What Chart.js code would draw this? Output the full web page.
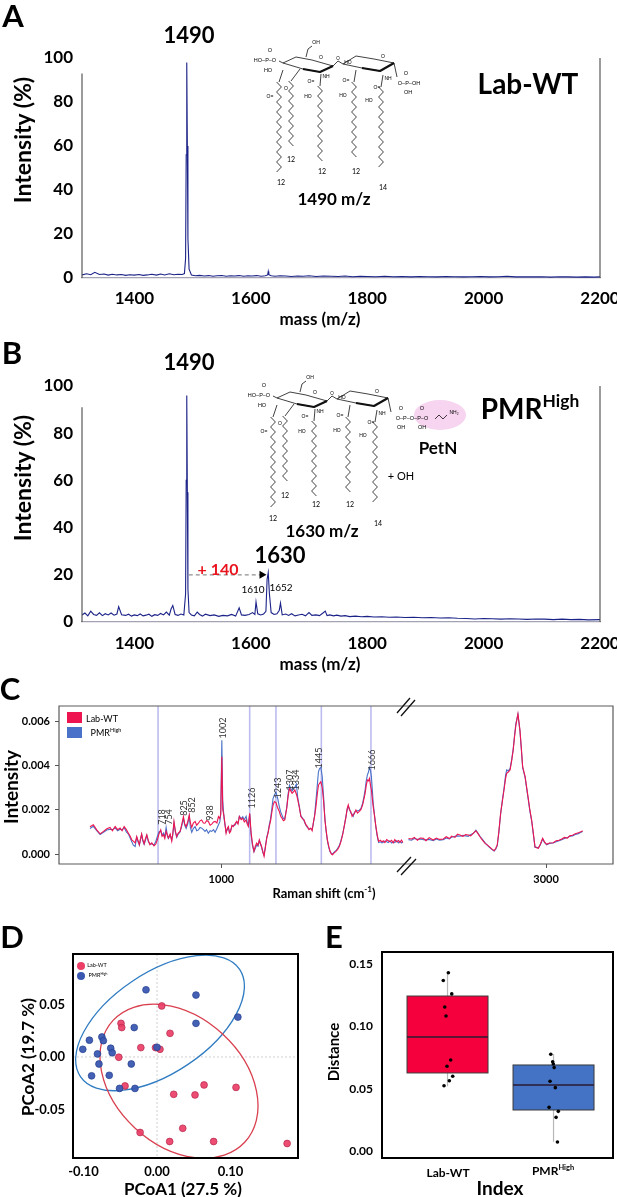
<!DOCTYPE html>
<html><head><meta charset="utf-8">
<script src="https://cdn.jsdelivr.net/npm/chart.js@4.4.0/dist/chart.umd.min.js"></script>
<style>
html,body{margin:0;padding:0;background:#fff;}
body{width:617px;height:1197px;position:relative;overflow:hidden;font-family:Lato,"Liberation Sans",sans-serif;}
canvas{position:absolute;}
.t{position:absolute;white-space:nowrap;transform:translate(-50%,-50%);line-height:1;color:#000;}
sup{font-size:0.62em;vertical-align:0.7em;line-height:0;}
</style></head><body>
<script>
// ---------------- DATA ----------------
// Panel A (Lab-WT MALDI spectrum)
const massTicks = [1400,1600,1800,2000,2200];
const intensityTicks = [0,20,40,60,80,100];
const mzA = [1310,1318,1325,1332,1340,1348,1355,1362,1370,1378,
 1385,1392,1400,1408,1415,1422,1430,1438,1445,1452,
 1460,1468,1475,1482,1486,1488,1489,1490,1491,1492,
 1494,1498,1505,1512,1520,1528,1535,1542,1550,1558,
 1565,1572,1580,1588,1595,1602,1610,1618,1625,1629,
 1630,1631,1635,1642,1650,1660,1670,1680,1690,1700,
 1712,1725,1738,1750,1762,1775,1788,1800,1815,1830,
 1845,1860,1875,1890,1905,1920,1935,1950,1965,1980,
 1995,2010,2025,2040,2055,2070,2085,2100,2115,2130,
 2145,2160,2175,2190,2200];
const intA = [1.4,1.9,1.5,2.6,1.6,1.8,1.3,1.7,1.4,1.6,
 1.2,1.5,1.3,1.6,1.2,1.4,1.7,1.3,1.8,1.4,
 1.9,1.5,1.7,1.6,2.0,9,56,98,60,18,
 4,1.4,1.0,1.2,0.9,1.1,0.8,1.0,1.1,0.8,
 1.0,0.9,1.1,0.8,1.0,0.9,1.1,0.8,1.0,1.4,
 3.0,1.5,1.0,0.8,1.0,0.9,0.7,0.9,0.8,1.0,
 0.7,0.9,0.8,0.7,0.9,0.6,0.8,0.7,0.6,0.8,
 0.6,0.7,0.5,0.7,0.6,0.5,0.7,0.6,0.5,0.6,
 0.7,0.5,0.6,0.8,0.5,0.6,0.5,0.6,0.4,0.6,
 0.5,0.4,0.5,0.4,0.5];
// Panel B (PMR-High spectrum)
const mzB = [1310,1315,1320,1325,1330,1335,1340,1345,1350,1355,
 1360,1365,1370,1373,1378,1385,1390,1395,1400,1405,
 1410,1415,1420,1425,1430,1435,1440,1445,1450,1455,
 1460,1463,1466,1470,1475,1480,1485,1488,1489,1490,
 1491,1492,1494,1498,1503,1508,1512,1517,1522,1530,
 1537,1545,1552,1560,1567,1574,1580,1584,1590,1597,
 1603,1607,1609,1612,1617,1622,1626,1628,1630,1632,
 1635,1640,1645,1649,1651,1654,1660,1665,1670,1676,
 1682,1688,1694,1700,1705,1712,1718,1724,1728,1731,
 1736,1742,1748,1755,1762,1770,1780,1790,1800,1812,
 1825,1838,1850,1865,1880,1895,1910,1925,1940,1955,
 1970,1985,2000,2015,2030,2045,2060,2075,2090,2105,
 2120,2135,2150,2165,2180,2200];
const intB = [3.0,3.8,2.6,4.6,3.2,2.8,3.9,2.7,3.5,3.0,
 3.8,2.9,3.4,6.5,3.1,2.8,3.3,2.5,3.0,2.7,
 3.4,2.6,2.9,3.3,2.4,3.1,2.8,3.6,3.0,4.2,
 2.9,5.5,7.0,3.2,2.8,3.4,3.0,12,60,96,
 55,14,4.0,3.0,2.6,4.2,3.2,2.5,3.3,2.7,
 3.0,2.4,2.8,2.6,3.2,2.5,6.0,3.0,2.8,3.2,
 4.0,3.2,8.5,3.5,3.0,3.4,4.5,18,21,12,
 4.0,3.2,3.5,5.0,8.0,3.0,3.4,2.8,3.5,2.6,
 3.0,3.3,2.6,4.0,2.8,3.0,2.7,3.8,4.6,2.7,
 3.0,2.6,2.9,2.5,2.7,2.3,2.5,2.2,2.4,2.1,
 2.2,2.0,2.1,1.9,2.0,1.8,1.9,1.7,1.8,1.6,
 1.5,1.3,1.5,1.4,1.2,1.4,1.3,1.1,1.3,1.2,
 1.0,1.2,1.0,1.1,0.9,1.0];
const shiftFrom = 1490, shiftTo = 1627, shiftLevel = 20;

// Panel C (Raman, intensity x 10^-3)
const ramanYTicks = [0,0.002,0.004,0.006];
const ramanLeftTicks = [1000];
const ramanRightTicks = [3000];
const ramanMarks = [718,1126,1243,1445,1666];
const wnL = [415,430,445,460,475,490,504,515,527,538,
 549,558,567,577,586,594,601,608,616,623,
 629,635,640,645,650,656,662,668,675,682,
 690,700,708,715,722,730,736,742,748,754,
 760,764,772,779,784,789,795,801,808,816,
 823,831,837,843,850,857,862,868,875,883,
 890,898,905,912,920,927,934,942,950,957,
 965,972,980,987,993,997,1002,1006,1012,1021,
 1026,1031,1036,1041,1047,1053,1060,1068,1074,1080,
 1088,1095,1102,1110,1115,1120,1126,1132,1138,1145,
 1151,1157,1163,1169,1175,1179,1185,1190,1196,1202,
 1208,1213,1219,1224,1230,1236,1243,1250,1258,1264,
 1270,1276,1282,1291,1297,1303,1309,1315,1321,1327,
 1334,1340,1347,1354,1361,1368,1375,1383,1390,1398,
 1404,1409,1415,1421,1427,1432,1437,1443,1449,1455,
 1461,1466,1472,1478,1484,1490,1495,1502,1510,1517,
 1525,1532,1540,1548,1555,1560,1565,1570,1576,1582,
 1587,1593,1599,1606,1614,1621,1629,1635,1640,1645,
 1650,1655,1659,1664,1668,1672,1676,1682,1688,1694,
 1700,1708,1715,1721,1728,1736,1743,1750,1758,1765,
 1772,1780,1788,1795,1802,1808];
const labWTL = [1.23,1.32,1.09,0.91,1.02,1.14,1.20,1.05,1.24,1.10,
 1.17,1.05,1.24,1.10,0.94,0.80,0.64,0.58,0.50,0.79,
 0.60,0.42,0.70,0.91,0.65,0.46,0.70,0.87,0.60,0.42,
 0.50,0.37,0.45,0.64,0.90,1.09,0.80,0.87,0.70,1.02,
 0.85,0.72,0.90,0.58,0.95,1.47,1.05,0.79,0.95,1.02,
 1.30,1.69,1.35,1.24,1.45,1.77,1.40,1.20,1.40,1.47,
 1.30,1.39,1.50,1.54,1.40,1.39,1.50,1.47,1.30,1.35,
 1.45,1.47,1.40,1.69,1.60,1.80,4.39,2.00,1.69,0.94,
 1.15,1.24,0.95,1.02,1.30,1.24,1.35,1.47,1.35,1.69,
 1.55,1.62,1.45,1.54,1.35,1.24,1.84,1.00,0.49,0.12,
 0.35,0.49,0.40,0.64,0.45,0.34,0.10,-0.10,0.30,0.72,
 0.95,1.24,1.50,1.84,2.20,2.37,2.32,2.10,1.92,1.70,
 1.62,1.50,1.54,2.07,2.60,2.96,2.85,2.74,2.80,2.89,
 2.70,2.45,2.10,1.69,1.60,1.54,1.35,1.24,1.10,1.17,
 1.05,1.39,1.70,2.14,2.70,3.10,3.19,3.26,3.00,2.40,
 1.54,1.10,0.64,0.35,0.12,0.00,-0.03,0.05,0.12,0.20,
 0.34,0.55,0.87,1.30,1.69,2.05,2.22,2.00,1.92,1.70,
 1.77,1.85,1.99,1.85,1.92,2.00,2.22,2.50,2.74,3.10,
 3.34,3.30,3.41,3.10,2.89,2.50,2.14,1.70,1.24,0.85,
 0.57,0.62,0.55,0.60,0.52,0.65,0.60,0.55,0.62,0.50,
 0.65,0.55,0.61,0.52,0.63,0.52];
const pmrL = [1.15,1.25,1.05,0.88,0.98,1.08,1.12,1.10,1.18,1.05,
 1.12,1.08,1.20,1.00,0.90,0.72,0.55,0.40,0.34,0.75,
 0.55,0.40,0.66,0.88,0.60,0.44,0.62,0.84,0.55,0.45,
 0.46,0.40,0.58,0.79,1.00,1.05,0.85,0.95,0.78,1.20,
 0.80,0.70,0.85,0.64,0.90,1.40,1.00,0.75,0.90,1.00,
 1.25,1.60,1.30,1.15,1.35,1.70,1.20,0.98,1.15,1.24,
 1.05,1.09,1.20,1.17,1.10,1.02,1.10,0.94,1.05,1.02,
 1.10,0.98,1.15,1.32,1.45,1.80,5.13,2.40,1.60,0.98,
 1.10,1.20,0.98,1.05,1.25,1.30,1.30,1.45,1.40,1.70,
 1.60,1.68,1.55,1.70,1.45,1.30,1.80,0.90,0.40,0.10,
 0.25,0.40,0.35,0.60,0.42,0.30,0.05,-0.05,0.35,0.75,
 1.00,1.30,1.60,2.00,2.50,2.66,2.78,2.55,2.14,1.90,
 1.75,1.60,1.58,2.10,2.70,3.11,2.95,2.85,2.95,3.00,
 3.16,2.55,2.15,1.72,1.62,1.50,1.32,1.20,1.12,1.15,
 1.10,1.35,1.75,2.40,3.10,3.70,3.86,3.91,3.50,2.60,
 1.60,1.05,0.60,0.30,0.10,0.02,0.00,0.08,0.15,0.25,
 0.38,0.60,0.90,1.32,1.72,2.00,2.15,2.05,1.85,1.80,
 1.70,1.90,1.92,1.95,1.98,2.05,2.30,2.60,2.90,3.30,
 3.56,3.70,3.91,3.75,3.49,2.90,2.30,1.75,1.20,0.80,
 0.52,0.55,0.50,0.53,0.58,0.55,0.52,0.60,0.50,0.55,
 0.52,0.60,0.50,0.58,0.50,0.55];
const wnR = [2388,2402,2414,2428,2440,2454,2466,2480,2498,2512,
 2526,2543,2556,2570,2580,2595,2606,2617,2630,2643,
 2654,2665,2676,2688,2697,2706,2718,2729,2740,2751,
 2760,2769,2776,2783,2790,2798,2806,2813,2820,2825,
 2832,2840,2847,2854,2860,2866,2875,2884,2890,2896,
 2902,2907,2914,2921,2928,2936,2944,2951,2958,2966,
 2975,2985,2993,3003,3015,3032,3045,3058,3070,3082,
 3095,3107,3118,3130,3144,3155,3163];
const labWTR = [0.70,0.68,0.75,0.62,0.72,0.71,0.60,0.74,0.63,0.72,
 0.66,0.68,0.78,0.70,0.81,0.75,0.90,0.86,0.80,0.88,
 0.86,0.82,0.93,1.05,0.92,0.78,0.62,0.48,0.40,0.30,
 0.22,0.15,0.25,0.41,1.00,1.84,2.40,2.89,3.40,3.64,
 3.70,3.79,4.20,4.69,5.30,5.82,6.32,5.59,4.80,3.94,
 3.70,3.49,3.00,2.51,2.00,1.53,0.90,0.33,0.28,0.26,
 0.45,0.71,0.55,0.44,0.50,0.51,0.60,0.62,0.68,0.75,
 0.72,0.83,0.85,0.92,0.96,1.00,1.05];
const pmrR = [0.65,0.62,0.70,0.66,0.68,0.65,0.64,0.66,0.60,0.68,
 0.62,0.65,0.72,0.68,0.76,0.80,0.82,0.80,0.84,0.82,
 0.80,0.88,0.92,1.08,0.95,0.80,0.65,0.50,0.38,0.28,
 0.20,0.14,0.22,0.38,0.95,1.80,2.45,2.95,3.55,3.80,
 3.75,3.85,4.25,4.75,5.35,5.90,6.30,5.55,4.75,3.90,
 3.65,3.45,2.95,2.45,1.95,1.50,0.85,0.30,0.30,0.28,
 0.42,0.68,0.52,0.42,0.48,0.50,0.55,0.60,0.65,0.70,
 0.75,0.80,0.82,0.88,0.92,0.98,1.02];

// Panel D (PCoA)
const pcoaXTicks = [-0.1,0,0.1];
const pcoaYTicks = [-0.05,0,0.05];
const labX = [0.0064,-0.049,-0.048,0.0177,-0.022,-0.002,0.004,-0.052,-0.0435,0.064,0.1075,0.0227,0.0517,0.035,-0.023,0.0172,0.077,0.177];
const labY = [0.0486,0.032,0.028,0.0225,0.0089,0.0089,0.0073,-0.0003,-0.0276,-0.0267,-0.029,-0.0356,-0.0362,-0.068,-0.072,-0.0806,-0.0806,-0.0825];
const pmrX = [-0.015,0.053,0.110,0.053,-0.031,-0.075,-0.073,-0.092,-0.101,-0.063,-0.061,-0.081,0.000,-0.079,-0.035,-0.089,-0.065,-0.051,-0.030];
const pmrY = [0.064,0.059,0.038,0.032,0.028,0.019,0.0155,0.016,0.0073,0.0083,0.004,0.0029,0.0092,-0.0067,-0.0067,-0.018,-0.0175,-0.030,-0.030];
// confidence ellipses: centre, half-axis vector 1, half-axis vector 2 (data units)
const ellipseLab = [0.0299,-0.0231, 0.0897,-0.0579, -0.0593,-0.0450];
const ellipsePmr = [0.0041,0.0324, 0.1083,0.0511, 0.0381,-0.0395];

// Panel E (distance boxplot)
const groups = ['Lab-WT','PMR<sup>High</sup>'];
const distTicks = [0,0.05,0.1,0.15];
const q1 = [0.0626,0.0329];
const med = [0.0914,0.053];
const q3 = [0.1243,0.069];
const whLo = [0.052,0.0075];
const whHi = [0.143,0.0778];
const labDist = [0.143,0.1367,0.126,0.1155,0.1083,0.073,0.068,0.060,0.0564,0.0524];
const labJit = [0.008,-0.040,0.040,-0.026,-0.014,0.030,-0.005,0.049,0.017,-0.033];
const pmrDist = [0.0776,0.0716,0.0698,0.0669,0.056,0.0508,0.035,0.0318,0.027,0.0072];
const pmrJit = [-0.026,-0.008,-0.002,0.006,-0.033,0.017,-0.042,0.045,0.024,0.037];

// ---------------- HELPERS ----------------
const FONT = 'Lato';
const zip = (xs, ys, k) => { const n = Math.min(xs.length, ys.length); const o = []; for (let i = 0; i < n; i++) o.push({x: xs[i], y: ys[i] * (k || 1)}); return o; };
function mk(l, t, w, h) { const c = document.createElement('canvas'); c.width = w; c.height = h; c.style.left = l + 'px'; c.style.top = t + 'px'; c.style.width = w + 'px'; c.style.height = h + 'px'; document.body.appendChild(c); return c; }
function T(x, y, html, css, rot) { const d = document.createElement('div'); d.className = 't'; d.innerHTML = html; d.style.cssText = 'left:' + x + 'px;top:' + y + 'px;' + (css || '') + (rot ? 'transform:translate(-50%,-50%) rotate(-90deg);' : ''); document.body.appendChild(d); return d; }
const fixTicks = arr => s => { s.ticks = arr.map(v => ({value: v})); };
const bold = size => ({family: FONT, weight: 'bold', size});
const base = {responsive: false, animation: false, events: [], plugins: {legend: {display: false}, tooltip: {enabled: false}}};

// ---------------- PANELS A & B ----------------
const NAVY = '#1c2388';
function frameAB(leftTopVal) {
  return {id: 'frameAB', afterDraw(ch) {
    const {ctx, chartArea: a, scales: {y}} = ch;
    ctx.save(); ctx.strokeStyle = '#4a4a4a'; ctx.lineWidth = 1.1; ctx.beginPath();
    ctx.moveTo(a.left, y.getPixelForValue(leftTopVal)); ctx.lineTo(a.left, a.bottom);
    ctx.moveTo(a.right, a.top); ctx.lineTo(a.right, a.bottom); ctx.stroke(); ctx.restore();
  }};
}
function spectrum(canvas, mz, val, cfg) {
  return new Chart(canvas, {type: 'line',
    data: {datasets: [{data: zip(mz, val), borderColor: NAVY, borderWidth: 1.1, pointRadius: 0, tension: 0, fill: false}]},
    options: Object.assign({}, base, {
      layout: {padding: {top: cfg.top, right: 17, left: 0, bottom: 0}},
      scales: {
        x: {type: 'linear', min: 1310, max: 2200, afterBuildTicks: fixTicks(massTicks),
            afterFit: s => { s.height = cfg.xh; s.paddingLeft = 0; s.paddingRight = 0; },
            grid: {display: false, drawTicks: false}, border: {display: true, color: '#a3a3b3', width: 1.3},
            ticks: {padding: cfg.xpad, color: '#000', font: bold(17), maxRotation: 0, autoSkip: false, callback: v => String(v)}},
        y: {type: 'linear', min: 0, max: 100, afterBuildTicks: fixTicks(intensityTicks),
            afterFit: s => { s.width = 82; s.paddingTop = 0; s.paddingBottom = 0; },
            grid: {display: false, drawTicks: false}, border: {display: false},
            ticks: {padding: 9, color: '#000', font: bold(17), callback: v => String(v)}}
      }}),
    plugins: [frameAB(cfg.leftTop)].concat(cfg.extra || [])
  });
}
spectrum(mk(0, 40, 617, 280), mzA, intA, {top: 18, xh: 42, xpad: 10, leftTop: 93});
const shiftArrow = {id: 'shift', afterDatasetsDraw(ch) {
  const {ctx, scales: {x, y}} = ch;
  const x0 = x.getPixelForValue(shiftFrom), x1 = x.getPixelForValue(shiftTo), yy = y.getPixelForValue(shiftLevel);
  ctx.save(); ctx.setLineDash([4, 3]); ctx.strokeStyle = '#8f8f8f'; ctx.lineWidth = 1.2;
  ctx.beginPath(); ctx.moveTo(x0 + 2, yy); ctx.lineTo(x1 - 6, yy); ctx.stroke();
  ctx.setLineDash([]); ctx.fillStyle = '#000'; ctx.beginPath();
  ctx.moveTo(x1, yy); ctx.lineTo(x1 - 7, yy - 4); ctx.lineTo(x1 - 7, yy + 4); ctx.closePath(); ctx.fill(); ctx.restore();
}};
spectrum(mk(0, 360, 617, 310), mzB, intB, {top: 26, xh: 48, xpad: 11, leftTop: 91, extra: [shiftArrow]});

// ---------------- PANEL C ----------------
const RED = '#ee1450', BLUE = '#4a72c8';
const yMinC = -0.00045, yMaxC = 0.00668;
function ramanChart(canvas, wn, red, blue, cfg) {
  return new Chart(canvas, {type: 'line',
    data: {datasets: [
      {data: zip(wn, red, 0.001), borderColor: RED, borderWidth: 1.1, pointRadius: 0, tension: 0},
      {data: zip(wn, blue, 0.001), borderColor: BLUE, borderWidth: 1.1, pointRadius: 0, tension: 0}]},
    options: Object.assign({}, base, {
      layout: {padding: {top: 16, right: cfg.padR, left: cfg.padL, bottom: 0}},
      scales: {
        x: {type: 'linear', min: cfg.min, max: cfg.max, afterBuildTicks: fixTicks(cfg.ticks),
            afterFit: s => { s.height = 26; s.paddingLeft = 0; s.paddingRight = 0; },
            grid: {display: true, drawOnChartArea: false, drawTicks: true, tickLength: 4, color: '#555'},
            border: {display: false},
            ticks: {padding: 5, color: '#000', font: bold(11), maxRotation: 0, autoSkip: false, callback: v => String(v)}},
        y: {type: 'linear', display: cfg.showY, min: yMinC, max: yMaxC, afterBuildTicks: fixTicks(ramanYTicks),
            afterFit: s => { s.width = cfg.showY ? 59 : 0; s.paddingTop = 0; s.paddingBottom = 0; },
            grid: {display: true, drawOnChartArea: false, drawTicks: true, tickLength: 4, color: '#555'},
            border: {display: false},
            ticks: {padding: 5, color: '#000', font: bold(11), callback: v => v.toFixed(3)}}
      }}),
    plugins: cfg.plugins
  });
}
const marksPlugin = {id: 'marks', beforeDatasetsDraw(ch) {
  const {ctx, chartArea: a, scales: {x}} = ch;
  ctx.save(); ctx.strokeStyle = 'rgba(165,165,235,0.75)'; ctx.lineWidth = 1.6;
  ramanMarks.forEach(w => { const px = x.getPixelForValue(w); ctx.beginPath(); ctx.moveTo(px, a.top); ctx.lineTo(px, a.bottom); ctx.stroke(); });
  ctx.restore();
}};
const frameCL = {id: 'frameCL', afterDraw(ch) {
  const {ctx, chartArea: a} = ch; ctx.save(); ctx.strokeStyle = '#5a5a5a'; ctx.lineWidth = 1.2; ctx.beginPath();
  ctx.moveTo(a.right, a.top); ctx.lineTo(a.left, a.top); ctx.lineTo(a.left, a.bottom); ctx.lineTo(a.right, a.bottom); ctx.stroke(); ctx.restore();
}};
const frameCR = {id: 'frameCR', afterDraw(ch) {
  const {ctx, chartArea: a} = ch; ctx.save(); ctx.strokeStyle = '#5a5a5a'; ctx.lineWidth = 1.2; ctx.beginPath();
  ctx.moveTo(a.left, a.top); ctx.lineTo(a.right, a.top); ctx.lineTo(a.right, a.bottom); ctx.lineTo(a.left, a.bottom); ctx.stroke();
  ctx.strokeStyle = '#111'; ctx.lineWidth = 1.3;
  [[a.top, 0], [a.bottom, 1]].forEach(([yy, k]) => {
    ctx.beginPath(); ctx.moveTo(a.left - 9, yy + 7 + k); ctx.lineTo(a.left + 4 + k, yy - 8 + k);
    ctx.moveTo(a.left - 5, yy + 10 + k); ctx.lineTo(a.left + 9 + k, yy - 6 + k); ctx.stroke();
  });
  ctx.restore();
}};
ramanChart(mk(0, 690, 406, 200), wnL, labWTL, pmrL, {min: 277, max: 1822, ticks: ramanLeftTicks, padL: 0, padR: 0, showY: true, plugins: [marksPlugin, frameCL]});
ramanChart(mk(386, 690, 231, 200), wnR, labWTR, pmrR, {min: 2377, max: 3298, ticks: ramanRightTicks, padL: 20, padR: 4, showY: false, plugins: [frameCR]});

// ---------------- PANEL D ----------------
function drawEllipse(ctx, x, y, e, color) {
  const p0x = x.getPixelForValue(e[0]), p0y = y.getPixelForValue(e[1]);
  const p1x = x.getPixelForValue(e[0] + e[2]) - p0x, p1y = y.getPixelForValue(e[1] + e[3]) - p0y;
  const p2x = x.getPixelForValue(e[0] + e[4]) - p0x, p2y = y.getPixelForValue(e[1] + e[5]) - p0y;
  ctx.save(); ctx.transform(p1x, p1y, p2x, p2y, p0x, p0y); ctx.beginPath(); ctx.arc(0, 0, 1, 0, Math.PI * 2); ctx.restore();
  ctx.strokeStyle = color; ctx.lineWidth = 1.3; ctx.stroke();
}
const pcoaDeco = {id: 'pcoaDeco',
  beforeDatasetsDraw(ch) {
    const {ctx, chartArea: a, scales: {x, y}} = ch;
    ctx.save(); ctx.beginPath(); ctx.rect(a.left, a.top, a.width, a.height); ctx.clip();
    ctx.strokeStyle = '#cfcfcf'; ctx.lineWidth = 1; ctx.setLineDash([2, 2]);
    const zx = x.getPixelForValue(0), zy = y.getPixelForValue(0);
    ctx.beginPath(); ctx.moveTo(zx, a.top); ctx.lineTo(zx, a.bottom); ctx.moveTo(a.left, zy); ctx.lineTo(a.right, zy); ctx.stroke();
    ctx.setLineDash([]);
    drawEllipse(ctx, x, y, ellipsePmr, '#2f7cc2');
    drawEllipse(ctx, x, y, ellipseLab, '#d9404f');
    ctx.restore();
  },
  afterDraw(ch) {
    const {ctx, chartArea: a} = ch; ctx.save(); ctx.strokeStyle = '#000'; ctx.lineWidth = 2;
    ctx.strokeRect(a.left, a.top, a.width, a.height); ctx.restore();
  }};
new Chart(mk(0, 940, 310, 257), {type: 'scatter',
  data: {datasets: [
    {data: zip(pmrX, pmrY), backgroundColor: 'rgba(58,88,178,0.95)', borderColor: '#243f8c', borderWidth: 0.7, pointRadius: 3.4},
    {data: zip(labX, labY), backgroundColor: 'rgba(236,62,102,0.92)', borderColor: '#b3284c', borderWidth: 0.7, pointRadius: 3.4}]},
  options: Object.assign({}, base, {
    layout: {padding: {top: 14, right: 12, left: 0, bottom: 0}},
    scales: {
      x: {type: 'linear', min: -0.1143, max: 0.1918, afterBuildTicks: fixTicks(pcoaXTicks),
          afterFit: s => { s.height = 39; s.paddingLeft = 0; s.paddingRight = 0; },
          grid: {display: false, drawTicks: false}, border: {display: false},
          ticks: {padding: 6, color: '#000', font: bold(13), maxRotation: 0, autoSkip: false, callback: v => v.toFixed(2)}},
      y: {type: 'linear', min: -0.0963, max: 0.0981, afterBuildTicks: fixTicks(pcoaYTicks),
          afterFit: s => { s.width = 73; s.paddingTop = 0; s.paddingBottom = 0; },
          grid: {display: false, drawTicks: false}, border: {display: false},
          ticks: {padding: 8, color: '#000', font: bold(13), callback: v => v.toFixed(2)}}
    }}),
  plugins: [pcoaDeco]
});

// ---------------- PANEL E ----------------
const boxFill = ['#f5003c', '#4472c4'];
const boxPlugin = {id: 'boxes',
  beforeDatasetsDraw(ch) {
    const {ctx, scales: {x, y}} = ch; ctx.save();
    groups.forEach((g, i) => {
      const c = i + 1, xl = x.getPixelForValue(c - 0.382), xr = x.getPixelForValue(c + 0.382), xc = x.getPixelForValue(c);
      ctx.strokeStyle = '#b8b8b8'; ctx.lineWidth = 1.2; ctx.beginPath();
      ctx.moveTo(xc, y.getPixelForValue(whHi[i])); ctx.lineTo(xc, y.getPixelForValue(q3[i]));
      ctx.moveTo(xc, y.getPixelForValue(q1[i])); ctx.lineTo(xc, y.getPixelForValue(whLo[i])); ctx.stroke();
      const yt = y.getPixelForValue(q3[i]), yb = y.getPixelForValue(q1[i]);
      ctx.fillStyle = boxFill[i]; ctx.fillRect(xl, yt, xr - xl, yb - yt);
      ctx.strokeStyle = '#3a3a3a'; ctx.lineWidth = 1; ctx.strokeRect(xl, yt, xr - xl, yb - yt);
      const ym = y.getPixelForValue(med[i]); ctx.strokeStyle = '#2a1a30'; ctx.lineWidth = 1.4;
      ctx.beginPath(); ctx.moveTo(xl, ym); ctx.lineTo(xr, ym); ctx.stroke();
    });
    ctx.restore();
  },
  afterDraw(ch) {
    const {ctx, chartArea: a} = ch; ctx.save(); ctx.strokeStyle = '#000'; ctx.lineWidth = 2;
    ctx.strokeRect(a.left, a.top, a.width, a.height); ctx.restore();
  }};
const jitterPts = labDist.map((v, i) => ({x: 1 + labJit[i], y: v})).concat(pmrDist.map((v, i) => ({x: 2 + pmrJit[i], y: v})));
new Chart(mk(320, 940, 297, 257), {type: 'scatter',
  data: {datasets: [{data: jitterPts, backgroundColor: '#000', borderWidth: 0, pointRadius: 1.8}]},
  options: Object.assign({}, base, {
    layout: {padding: {top: 12, right: 4, left: 0, bottom: 0}},
    scales: {
      x: {type: 'linear', min: 0.382, max: 2.561, afterBuildTicks: fixTicks([1, 2]),
          afterFit: s => { s.height = 39; s.paddingLeft = 0; s.paddingRight = 0; },
          grid: {display: false, drawTicks: false}, border: {display: false},
          ticks: {color: '#000', callback: () => ''}},
      y: {type: 'linear', min: -0.0056, max: 0.1596, afterBuildTicks: fixTicks(distTicks),
          afterFit: s => { s.width = 62; s.paddingTop = 0; s.paddingBottom = 0; },
          grid: {display: false, drawTicks: false}, border: {display: false},
          ticks: {padding: 9, color: '#000', font: bold(12), callback: v => v.toFixed(2)}}
    }}),
  plugins: [boxPlugin]
});

// ---------------- MOLECULES (decorative sketch) ----------------
function zig(x0, y0, y1, amp, step) { const p = []; let k = 0; for (let y = y0; y <= y1; y += step) { p.push((x0 + (k % 2 ? amp : -amp)) + ',' + y); k++; } return p.join(' '); }
function molecule(dx, dy, petn) {
  const L = (pts, w) => `<polyline points="${pts}" fill="none" stroke="#111" stroke-width="${w || 0.8}" stroke-linejoin="round"/>`;
  const t = (x, y, s, size) => `<text x="${x}" y="${y}" font-size="${size || 5.5}" font-family="Liberation Sans, Arial" text-anchor="middle" dominant-baseline="middle">${s}</text>`;
  let g = '';
  if (petn) g += '<ellipse cx="446" cy="80" rx="26" ry="15" fill="#f7d4ef"/>';
  g += L('283,63 296,57 312,60 333,66 320,72 303,69 283,63') + L('333,66 320,72 303,69', 2.2);
  g += L('343,64 356,56 374,59 394,63 380,71 362,68 343,64') + L('394,63 380,71 362,68', 2.2);
  g += L('333,66 338,61 343,64') + L('306,57 308,49 312,46') + t(316,43,'OH',5);
  g += t(321,58,'O',5) + t(383,57,'O',5) + t(338,59,'O',4.5);
  g += L('283,63 279,61') + t(265,61,'HO–P–O') + t(270,51,'O') + t(268,71,'HO');
  g += t(326,77,'NH',5) + t(388,79,'NH',5) + t(348,63,'HO',5);
  g += L('394,63 397,77');
  if (!petn) { g += t(409,84,'O–P–OH') + t(406,74,'O') + t(408,93,'OH'); }
  else { g += t(418,84,'O–P–O–P–O') + t(407,74,'O') + t(428,74,'O') + t(407,93,'OH') + t(428,93,'OH') + L('441,84 445,80 449,84 453,80') + t(460,78,'NH₂',5); }
  const chains = [[283,70,279,176],[300,69,291,149],[321,74,320,161],[356,70,354,159],[383,75,381,171]];
  chains.forEach(c => { g += L(c[0] + ',' + c[1] + ' ' + c[2] + ',' + (c[1] + 12)); g += L(zig(c[2], c[1] + 12, c[3], 2.4, 5)); });
  g += t(270,97,'O=',5) + t(286,89,'O',5) + t(311,82,'O=',5) + t(346,81,'O=',5) + t(377,88,'O=',5);
  g += t(308,97,'HO',5) + t(343,96,'HO',5) + t(369,101,'HO',5);
  return `<g transform="translate(${dx},${dy})">${g}</g>`;
}
const svgNS = '<svg xmlns="http://www.w3.org/2000/svg" width="617" height="1197" style="position:absolute;left:0;top:0">' + molecule(0, 0, false) + molecule(-6, 335, true) + '</svg>';
document.body.insertAdjacentHTML('beforeend', svgNS);

// ---------------- TEXT ----------------
const B = 'font-weight:700;';
T(13, 15, 'A', B + 'font-size:31px;');
T(12, 352, 'B', B + 'font-size:31px;');
T(10, 688, 'C', B + 'font-size:31px;');
T(12, 936, 'D', B + 'font-size:31px;');
T(334, 936, 'E', B + 'font-size:31px;');
// A
T(22, 140, 'Intensity (%)', B + 'font-size:23px;', true);
T(189, 35, '1490', B + 'font-size:22px;');
T(528, 83, 'Lab-WT', B + 'font-size:28px;');
T(334, 198, '1490 m/z', B + 'font-size:17px;');
T(291, 159, '12', 'font-size:7px;'); T(322, 171, '12', 'font-size:7px;'); T(356, 171, '12', 'font-size:7px;');
T(281, 182, '12', 'font-size:7px;'); T(383, 187, '14', 'font-size:7px;');
T(320, 318, 'mass (m/z)', B + 'font-size:17px;');
// B
T(22, 478, 'Intensity (%)', B + 'font-size:23px;', true);
T(189, 362, '1490', B + 'font-size:22px;');
T(530, 408, 'PMR<sup>High</sup>', B + 'font-size:28px;');
T(322, 530, '1630 m/z', B + 'font-size:17px;');
T(285, 495, '12', 'font-size:7px;'); T(316, 504, '12', 'font-size:7px;'); T(350, 504, '12', 'font-size:7px;');
T(273, 518, '12', 'font-size:7px;'); T(378, 523, '14', 'font-size:7px;');
T(438, 447, 'PetN', B + 'font-size:17px;');
T(401, 475, '+ OH', 'font-size:11px;');
T(280, 555, '1630', B + 'font-size:22px;');
T(218, 569, '+ 140', B + 'font-size:16px;color:#e8141e;');
T(253, 589, '1610', 'font-size:10px;');
T(281, 587, '1652', 'font-size:10px;');
T(320, 663, 'mass (m/z)', B + 'font-size:17px;');
// C
T(10, 787, 'Intensity', B + 'font-size:19px;', true);
T(324, 893, 'Raman shift (cm<sup>-1</sup>)', B + 'font-size:13px;');
const lg = document.createElement('div'); lg.style.cssText = 'position:absolute;left:67px;top:712px;width:15px;height:11px;background:' + RED; document.body.appendChild(lg);
const lg2 = document.createElement('div'); lg2.style.cssText = 'position:absolute;left:67px;top:727px;width:15px;height:11px;background:' + BLUE; document.body.appendChild(lg2);
T(102, 718, 'Lab-WT', 'font-size:9px;');
T(106, 732, 'PMR<sup>High</sup>', 'font-size:9px;');
[['718',161,817],['754',168,817],['825',183,808],['852',191,805],['938',209,813],['1002',222,728],['1126',251,798],
 ['1243',277,788],['1307',289,780],['1334',295,780],['1445',318,758],['1666',371,760]].forEach(p => T(p[1], p[2], p[0], 'font-size:9px;color:#333;', true));
// D
T(27, 1057, 'PCoA2 (19.7 %)', B + 'font-size:17px;', true);
T(183, 1188, 'PCoA1 (27.5 %)', B + 'font-size:17px;');
const dl = (y, col) => { const d = document.createElement('div'); d.style.cssText = 'position:absolute;left:77px;top:' + (y - 4) + 'px;width:8px;height:8px;border-radius:50%;background:' + col; document.body.appendChild(d); };
dl(966, '#ec3e66'); dl(976, '#3a58b2');
T(97, 966, 'Lab-WT', 'font-size:5.5px;');
T(98, 976, 'PMR<sup>High</sup>', 'font-size:5.5px;');
// E
T(333, 1052, 'Distance', B + 'font-size:15px;', true);
T(448, 1173, groups[0], B + 'font-size:12px;');
T(553, 1171, groups[1], B + 'font-size:12px;');
T(500, 1187, 'Index', B + 'font-size:19px;');
</script>
</body></html>
